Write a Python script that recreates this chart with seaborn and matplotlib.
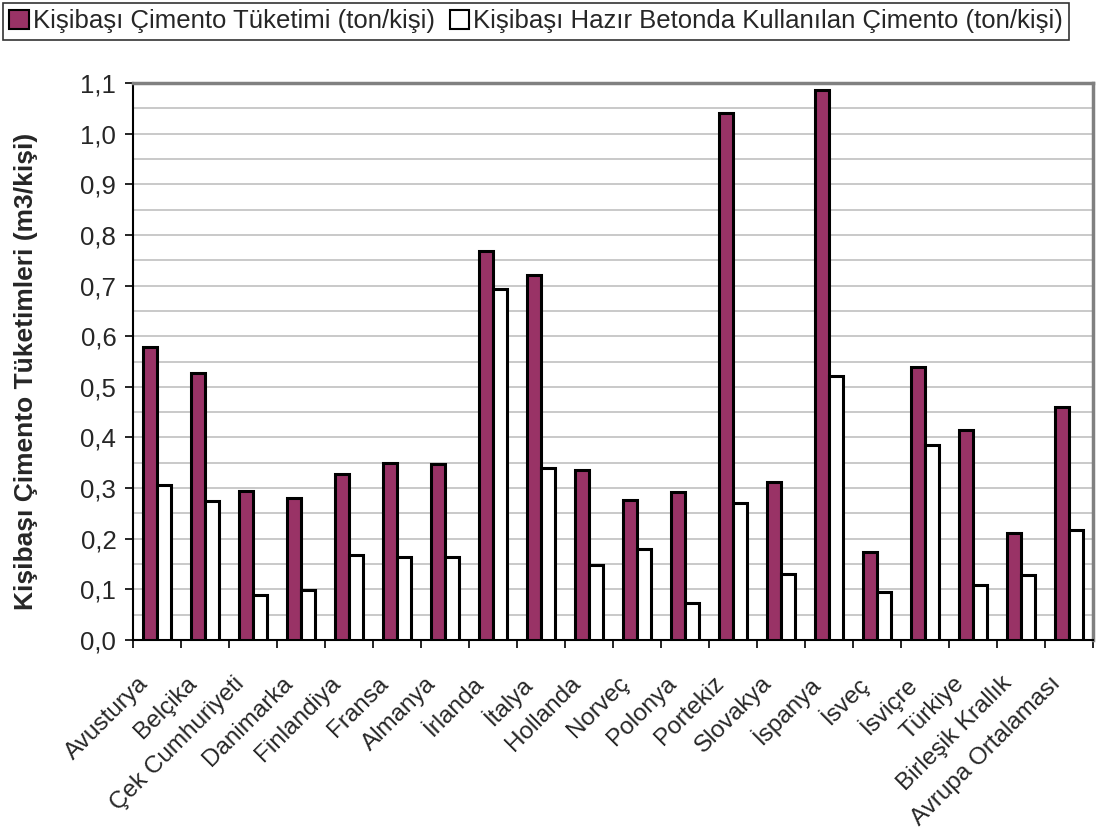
import numpy as np
import pandas as pd
import matplotlib
matplotlib.use("Agg")
import matplotlib.pyplot as plt
import matplotlib.transforms as mtransforms
from matplotlib.patches import Patch
from matplotlib.ticker import MultipleLocator, FuncFormatter
import seaborn as sns

# Ülkeler ve kişi başı çimento değerleri
countries = [
    "Avusturya", "Belçika", "Çek Cumhuriyeti", "Danimarka", "Finlandiya",
    "Fransa", "Almanya", "İrlanda", "İtalya", "Hollanda", "Norveç",
    "Polonya", "Portekiz", "Slovakya", "İspanya", "İsveç", "İsviçre",
    "Türkiye", "Birleşik Krallık", "Avrupa Ortalaması",
]
cimento_tuketimi = [
    0.578, 0.527, 0.295, 0.280, 0.328, 0.349, 0.348, 0.769, 0.721, 0.335,
    0.276, 0.293, 1.041, 0.312, 1.086, 0.174, 0.539, 0.414, 0.212, 0.461,
]
hazir_beton_cimento = [
    0.307, 0.274, 0.089, 0.098, 0.167, 0.164, 0.163, 0.693, 0.339, 0.148,
    0.180, 0.074, 0.270, 0.131, 0.521, 0.094, 0.386, 0.108, 0.128, 0.217,
]
series_names = [
    "Kişibaşı Çimento Tüketimi (ton/kişi)",
    "Kişibaşı Hazır Betonda Kullanılan Çimento (ton/kişi)",
]
y_label = "Kişibaşı Çimento Tüketimleri (m3/kişi)"
bar_colors = ["#993366", "#ffffff"]

df = pd.DataFrame({
    "Ülke": countries * 2,
    "Değer": cimento_tuketimi + hazir_beton_cimento,
    "Seri": [series_names[0]] * len(countries) + [series_names[1]] * len(countries),
})

sns.set_style("white")
plt.rcParams["font.family"] = ["Liberation Sans", "DejaVu Sans"]

W, H = 1096, 836
fig = plt.figure(figsize=(W / 100, H / 100), dpi=100)
ax = fig.add_axes([133 / W, 1 - 640 / H, 960 / W, 557 / H])

sns.barplot(
    data=df, x="Ülke", y="Değer", hue="Seri", order=countries,
    hue_order=series_names, palette=bar_colors, saturation=1,
    width=0.58, gap=0, edgecolor="black", linewidth=2.2,
    legend=False, ax=ax, zorder=3,
)

ax.set_xlim(-0.5, len(countries) - 0.5)
ax.set_ylim(0, 1.1)

# y ekseni: 0,1 aralıklı etiketler, 0,05 aralıklı kılavuz çizgileri
ax.yaxis.set_major_locator(MultipleLocator(0.1))
ax.yaxis.set_minor_locator(MultipleLocator(0.05))
ax.yaxis.set_major_formatter(FuncFormatter(lambda v, _: f"{v:.1f}".replace(".", ",")))
ax.grid(axis="y", which="both", color="#c0c0c0", linewidth=1.2, zorder=0)
ax.set_axisbelow(True)
ax.tick_params(axis="y", which="major", direction="out", length=6, width=1.2,
               color="black", labelsize=18.5, pad=6, left=True)
ax.tick_params(axis="y", which="minor", length=0)

# x ekseni: kategori sınırlarında çentik, merkezlerde eğik etiketler
ax.set_xticks(np.arange(-0.5, len(countries), 1))
ax.set_xticklabels([])
ax.set_xticks(np.arange(len(countries)), minor=True)
ax.set_xticklabels(countries, minor=True, rotation=45, ha="right",
                   rotation_mode="anchor", va="center")
ax.tick_params(axis="x", which="major", direction="out", length=6, width=1.2,
               color="black", bottom=True)
ax.tick_params(axis="x", which="minor", length=0, labelsize=17.5, pad=29)
shift = mtransforms.ScaledTranslation(-12 / 100, 0, fig.dpi_scale_trans)
for lbl in ax.get_xticklabels(minor=True):
    lbl.set_transform(lbl.get_transform() + shift)

ax.set_xlabel("")
ax.set_ylabel(y_label, fontsize=19, fontweight="bold")
ax.yaxis.set_label_coords(-0.099, 0.483)

for side in ("left", "bottom"):
    ax.spines[side].set_color("black")
    ax.spines[side].set_linewidth(1.5)
for side in ("top", "right"):
    ax.spines[side].set_color("#808080")
    ax.spines[side].set_linewidth(2.5)

handles = [Patch(facecolor=c, edgecolor="black", linewidth=1.5) for c in bar_colors]
leg = fig.legend(
    handles, series_names, loc="upper left", bbox_to_anchor=(3 / W, 1 - 3 / H),
    ncol=2, frameon=True, fancybox=False, fontsize=18.5, handlelength=0.75,
    handleheight=0.75, handletextpad=0.15, columnspacing=0.6,
    borderpad=0.25, borderaxespad=0,
)
leg.get_frame().set_edgecolor("black")
leg.get_frame().set_linewidth(1.2)

fig.savefig("out.png", dpi=100, facecolor="white")
